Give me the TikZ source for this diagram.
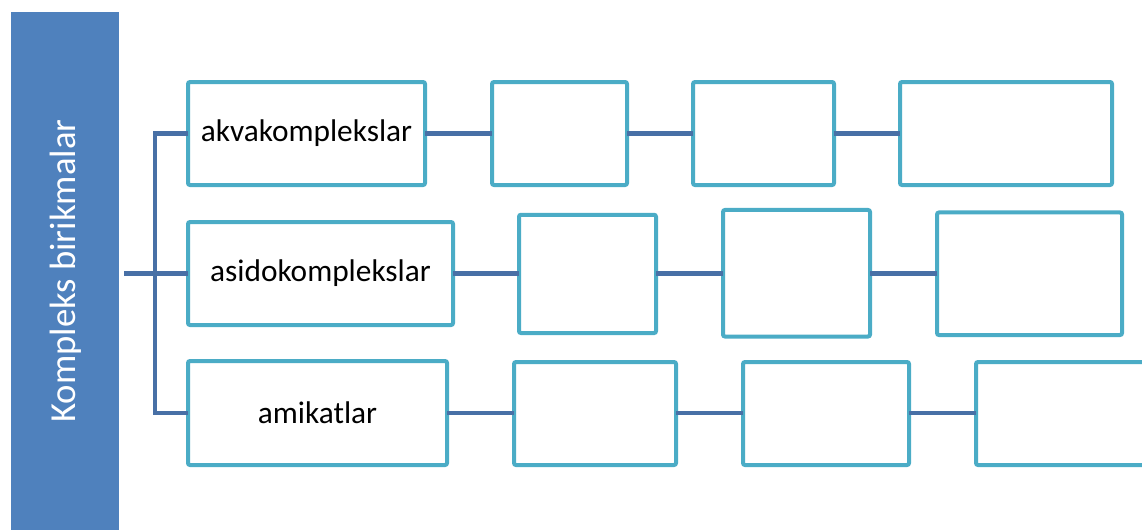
\documentclass[tikz,border=0pt]{standalone}
\usepackage{fontspec}
\setmainfont{Carlito}
\definecolor{barblue}{HTML}{4F81BD}
\definecolor{boxline}{HTML}{4BACC6}
\definecolor{linkblue}{HTML}{4870A6}
\begin{document}
\begin{tikzpicture}[x=0.75pt,y=-0.75pt,
  box/.style={draw=boxline,line width=3pt,fill=white,rounded corners=1.5pt,
    inner sep=0pt,outer sep=0pt,font=\fontsize{23.5}{26}\selectfont},
  link/.style={draw=linkblue,line width=3.1pt},
  bar/.style={fill=barblue,draw=none}]
\useasboundingbox (0,0) rectangle (1142,529);
\clip (0,0) rectangle (1142,529);

% title bar
\path[bar] (10.7,12) rectangle (119,530);
\node[text=white,rotate=90,font=\fontsize{27.5}{30}\selectfont] (title) at (66,271) {Kompleks birikmalar};

% first row
\node[box,minimum width=177.75pt,minimum height=77.25pt] (a1) at (306.5,133.5) {akvakomplekslar};
\node[box,minimum width=101.25pt,minimum height=77.25pt] (b1) at (559.5,133.5) {};
\node[box,minimum width=105.75pt,minimum height=77.25pt] (c1) at (763.5,133.5) {};
\node[box,minimum width=159pt,minimum height=77.25pt] (d1) at (1006,133.5) {};

% second row
\node[box,minimum width=198.75pt,minimum height=77.25pt] (a2) at (320.5,273.5) {asidokomplekslar};
\node[box,minimum width=102.75pt,minimum height=88.7pt] (b2) at (587.5,273.9) {};
\node[box,minimum width=110.25pt,minimum height=94.9pt] (c2) at (796.5,273.25) {};
\node[box,minimum width=138.75pt,minimum height=91.9pt] (d2) at (1029.5,273.75) {};

% third row
\node[box,minimum width=194.25pt,minimum height=78pt] (a3) at (317.5,413) {amikatlar};
\node[box,minimum width=121.5pt,minimum height=77.25pt] (b3) at (595,413.5) {};
\node[box,minimum width=124.5pt,minimum height=77.25pt] (c3) at (826,413.5) {};
\node[box,minimum width=139.5pt,minimum height=77.25pt] (d3) at (1069,413.5) {};

% branching tree
\coordinate (root) at (124,273.5);
\coordinate (trunk) at (155,273.5);
\draw[link] (a1.west) -| (trunk) |- (a3.west);
\draw[link] (root) -- (a2.west);

% chain links, kept level with the row's first box
\foreach \r in {1,2,3}{
  \draw[link] (a\r.east) -- (a\r.east -| b\r.west);
  \draw[link] (a\r.east -| b\r.east) -- (a\r.east -| c\r.west);
  \draw[link] (a\r.east -| c\r.east) -- (a\r.east -| d\r.west);
}
\end{tikzpicture}
\end{document}
